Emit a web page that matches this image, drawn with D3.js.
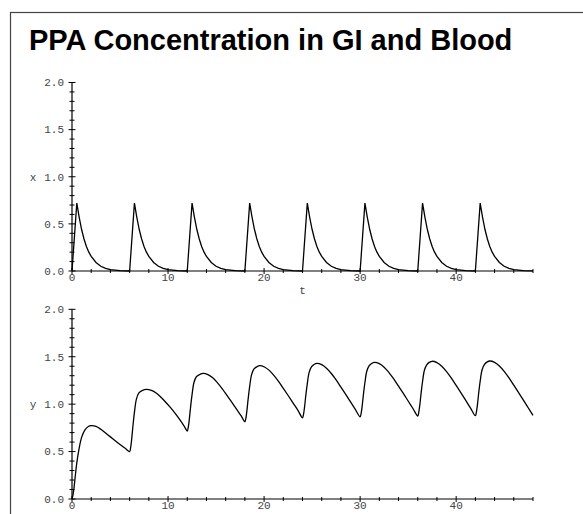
<!DOCTYPE html>
<html>
<head>
<meta charset="utf-8">
<script src="https://cdn.jsdelivr.net/npm/d3@7"></script>
<style>
  body { margin: 0; background: #fff; }
  .tick-label { font-family: "Liberation Mono", "Courier New", monospace; font-size: 11px; fill: #444; }
</style>
</head>
<body>
<svg id="chart" width="583" height="514"></svg>
<script>
(function () {
    const width = 583, height = 514

    // values
    const title = "PPA Concentration in GI and Blood"
    const xTickValues = [0, 10, 20, 30, 40]
    const yTickValues = [0, 0.5, 1.0, 1.5, 2.0]
    const yTickLabels = ["0.0", "0.5", "1.0", "1.5", "2.0"]

    // PPA in the GI tract, x(t)
    const giPoints = [
        [0, 0], [0.5, 0.72], [0.75, 0.57], [1, 0.44], [1.25, 0.34], [1.5, 0.26], [1.75, 0.2], [2, 0.155], [2.5, 0.09], [3, 0.05], [3.5, 0.028], [4, 0.015], [5, 0.004],
        [6, 0], [6.5, 0.72], [6.75, 0.57], [7, 0.44], [7.25, 0.34], [7.5, 0.26], [7.75, 0.2], [8, 0.155], [8.5, 0.09], [9, 0.05], [9.5, 0.028], [10, 0.015], [11, 0.004],
        [12, 0], [12.5, 0.72], [12.75, 0.57], [13, 0.44], [13.25, 0.34], [13.5, 0.26], [13.75, 0.2], [14, 0.155], [14.5, 0.09], [15, 0.05], [15.5, 0.028], [16, 0.015], [17, 0.004],
        [18, 0], [18.5, 0.72], [18.75, 0.57], [19, 0.44], [19.25, 0.34], [19.5, 0.26], [19.75, 0.2], [20, 0.155], [20.5, 0.09], [21, 0.05], [21.5, 0.028], [22, 0.015], [23, 0.004],
        [24, 0], [24.5, 0.72], [24.75, 0.57], [25, 0.44], [25.25, 0.34], [25.5, 0.26], [25.75, 0.2], [26, 0.155], [26.5, 0.09], [27, 0.05], [27.5, 0.028], [28, 0.015], [29, 0.004],
        [30, 0], [30.5, 0.72], [30.75, 0.57], [31, 0.44], [31.25, 0.34], [31.5, 0.26], [31.75, 0.2], [32, 0.155], [32.5, 0.09], [33, 0.05], [33.5, 0.028], [34, 0.015], [35, 0.004],
        [36, 0], [36.5, 0.72], [36.75, 0.57], [37, 0.44], [37.25, 0.34], [37.5, 0.26], [37.75, 0.2], [38, 0.155], [38.5, 0.09], [39, 0.05], [39.5, 0.028], [40, 0.015], [41, 0.004],
        [42, 0], [42.5, 0.72], [42.75, 0.57], [43, 0.44], [43.25, 0.34], [43.5, 0.26], [43.75, 0.2], [44, 0.155], [44.5, 0.09], [45, 0.05], [45.5, 0.028], [46, 0.015], [47, 0.004], [48, 0.001]
    ]

    // PPA in the blood, y(t)
    const bloodPoints = [
        [0, 0], [0.1, 0.04], [0.2, 0.11], [0.35, 0.25], [0.5, 0.38], [0.7, 0.51], [1, 0.65], [1.35, 0.73], [1.7, 0.765], [2, 0.773],
        [2.5, 0.765], [3, 0.735], [3.5, 0.695], [4, 0.655], [4.5, 0.615], [5, 0.575], [5.5, 0.537],
        [6, 0.5], [6.1, 0.539], [6.2, 0.618], [6.35, 0.775], [6.5, 0.913], [6.7, 1.05], [6.95, 1.116], [7.3, 1.142], [7.76, 1.155],
        [8.26, 1.145], [8.76, 1.118], [9.26, 1.072], [9.76, 1.02], [10.26, 0.963], [10.76, 0.9], [11.26, 0.832], [11.66, 0.772],
        [12, 0.717], [12.1, 0.753], [12.2, 0.826], [12.35, 0.972], [12.5, 1.1], [12.7, 1.228], [12.95, 1.289], [13.3, 1.313], [13.65, 1.325],
        [14.15, 1.312], [14.65, 1.278], [15.15, 1.225], [15.65, 1.162], [16.15, 1.09], [16.65, 1.018], [17.15, 0.944], [17.6, 0.878],
        [18, 0.815], [18.1, 0.85], [18.2, 0.921], [18.35, 1.063], [18.5, 1.187], [18.7, 1.311], [18.95, 1.371], [19.25, 1.394], [19.54, 1.406],
        [20.04, 1.392], [20.54, 1.356], [21.04, 1.301], [21.54, 1.235], [22.04, 1.161], [22.54, 1.086], [23.04, 1.009], [23.54, 0.932],
        [24, 0.855], [24.1, 0.89], [24.2, 0.958], [24.35, 1.096], [24.5, 1.217], [24.7, 1.338], [24.95, 1.395], [25.2, 1.418], [25.5, 1.43],
        [26, 1.416], [26.5, 1.379], [27, 1.323], [27.5, 1.255], [28, 1.179], [28.5, 1.102], [29, 1.023], [29.5, 0.944],
        [30, 0.865], [30.1, 0.9], [30.2, 0.969], [30.35, 1.107], [30.5, 1.228], [30.7, 1.349], [30.95, 1.406], [31.2, 1.429], [31.5, 1.441],
        [32, 1.427], [32.5, 1.39], [33, 1.333], [33.5, 1.266], [34, 1.189], [34.5, 1.113], [35, 1.033], [35.5, 0.954],
        [36, 0.875], [36.1, 0.91], [36.2, 0.979], [36.35, 1.117], [36.5, 1.239], [36.7, 1.36], [36.95, 1.417], [37.2, 1.44], [37.5, 1.452],
        [38, 1.438], [38.5, 1.4], [39, 1.343], [39.5, 1.274], [40, 1.197], [40.5, 1.119], [41, 1.039], [41.5, 0.958],
        [42, 0.878], [42.1, 0.913], [42.2, 0.982], [42.35, 1.12], [42.5, 1.242], [42.7, 1.363], [42.95, 1.42], [43.2, 1.443], [43.5, 1.455],
        [44, 1.441], [44.5, 1.403], [45, 1.346], [45.5, 1.277], [46, 1.2], [46.5, 1.122], [47, 1.042], [47.5, 0.962], [48, 0.882]
    ]

    const svg = d3.select("#chart")

    // frame round the plot (runs off the right and bottom edges)
    svg.append("rect")
        .attr("x", 10.5).attr("y", 12.5)
        .attr("width", 700).attr("height", 700)
        .attr("fill", "none")
        .attr("stroke", "#444")
        .attr("stroke-width", 1.2)

    svg.append("text")
        .attr("x", 29).attr("y", 50)
        .style("font-family", "'Liberation Sans', Arial, sans-serif")
        .style("font-weight", "bold")
        .style("font-size", "29px")
        .attr("fill", "#000")
        .text(title)

    // shared t scale
    const x = d3.scaleLinear().domain([0, 48]).range([72, 533])

    function panel(yScale, points, curve, yName, showT) {
        const g = svg.append("g")

        // axis lines
        g.append("line")
            .attr("x1", x(0)).attr("x2", x(48))
            .attr("y1", yScale(0)).attr("y2", yScale(0))
            .attr("stroke", "#000").attr("stroke-width", 1.2)
        g.append("line")
            .attr("x1", x(0)).attr("x2", x(0))
            .attr("y1", yScale(0)).attr("y2", yScale(2))
            .attr("stroke", "#000").attr("stroke-width", 1.2)

        // y ticks cross the axis, every 0.1, longer at 0.5
        g.selectAll(".ytick")
            .data(d3.range(0, 21))
            .enter().append("line")
            .attr("x1", (i) => x(0) - (i % 5 === 0 ? 3.5 : 2.5))
            .attr("x2", (i) => x(0) + (i % 5 === 0 ? 3.5 : 2.5))
            .attr("y1", (i) => yScale(i / 10)).attr("y2", (i) => yScale(i / 10))
            .attr("stroke", "#000").attr("stroke-width", 1)

        // t ticks every 2
        g.selectAll(".xtick")
            .data(d3.range(0, 49, 2))
            .enter().append("line")
            .attr("x1", (d) => x(d)).attr("x2", (d) => x(d))
            .attr("y1", (d) => yScale(0) - (d % 10 === 0 ? 3 : 2))
            .attr("y2", (d) => yScale(0) + (d % 10 === 0 ? 3 : 2))
            .attr("stroke", "#000").attr("stroke-width", 1)

        g.selectAll(".ylab")
            .data(yTickValues)
            .enter().append("text")
            .attr("class", "tick-label")
            .attr("x", 64)
            .attr("y", (d) => yScale(d))
            .attr("dy", "0.35em")
            .attr("text-anchor", "end")
            .text((d, i) => yTickLabels[i])

        g.selectAll(".xlab")
            .data(xTickValues)
            .enter().append("text")
            .attr("class", "tick-label")
            .attr("x", (d) => x(d))
            .attr("y", yScale(0) + 10)
            .attr("text-anchor", "middle")
            .text((d) => d)

        g.append("text")
            .attr("class", "tick-label")
            .attr("x", 33).attr("y", yScale(1))
            .attr("dy", "0.35em")
            .attr("text-anchor", "middle")
            .text(yName)

        if (showT) {
            g.append("text")
                .attr("class", "tick-label")
                .attr("x", x(24)).attr("y", yScale(0) + 23)
                .attr("text-anchor", "middle")
                .text("t")
        }

        const line = d3.line()
            .x((d) => x(d[0]))
            .y((d) => yScale(d[1]))
            .curve(curve)

        g.append("path")
            .datum(points)
            .attr("d", line)
            .attr("fill", "none")
            .attr("stroke", "#000")
            .attr("stroke-width", 1.3)
    }

    const yTop = d3.scaleLinear().domain([0, 2]).range([271, 82.5])
    const yBottom = d3.scaleLinear().domain([0, 2]).range([499, 309.3])

    panel(yTop, giPoints, d3.curveLinear, "x", true)
    // the bottom panel's own "t" falls below the visible window
    panel(yBottom, bloodPoints, d3.curveCatmullRom, "y", false)
})();
</script>
</body>
</html>
